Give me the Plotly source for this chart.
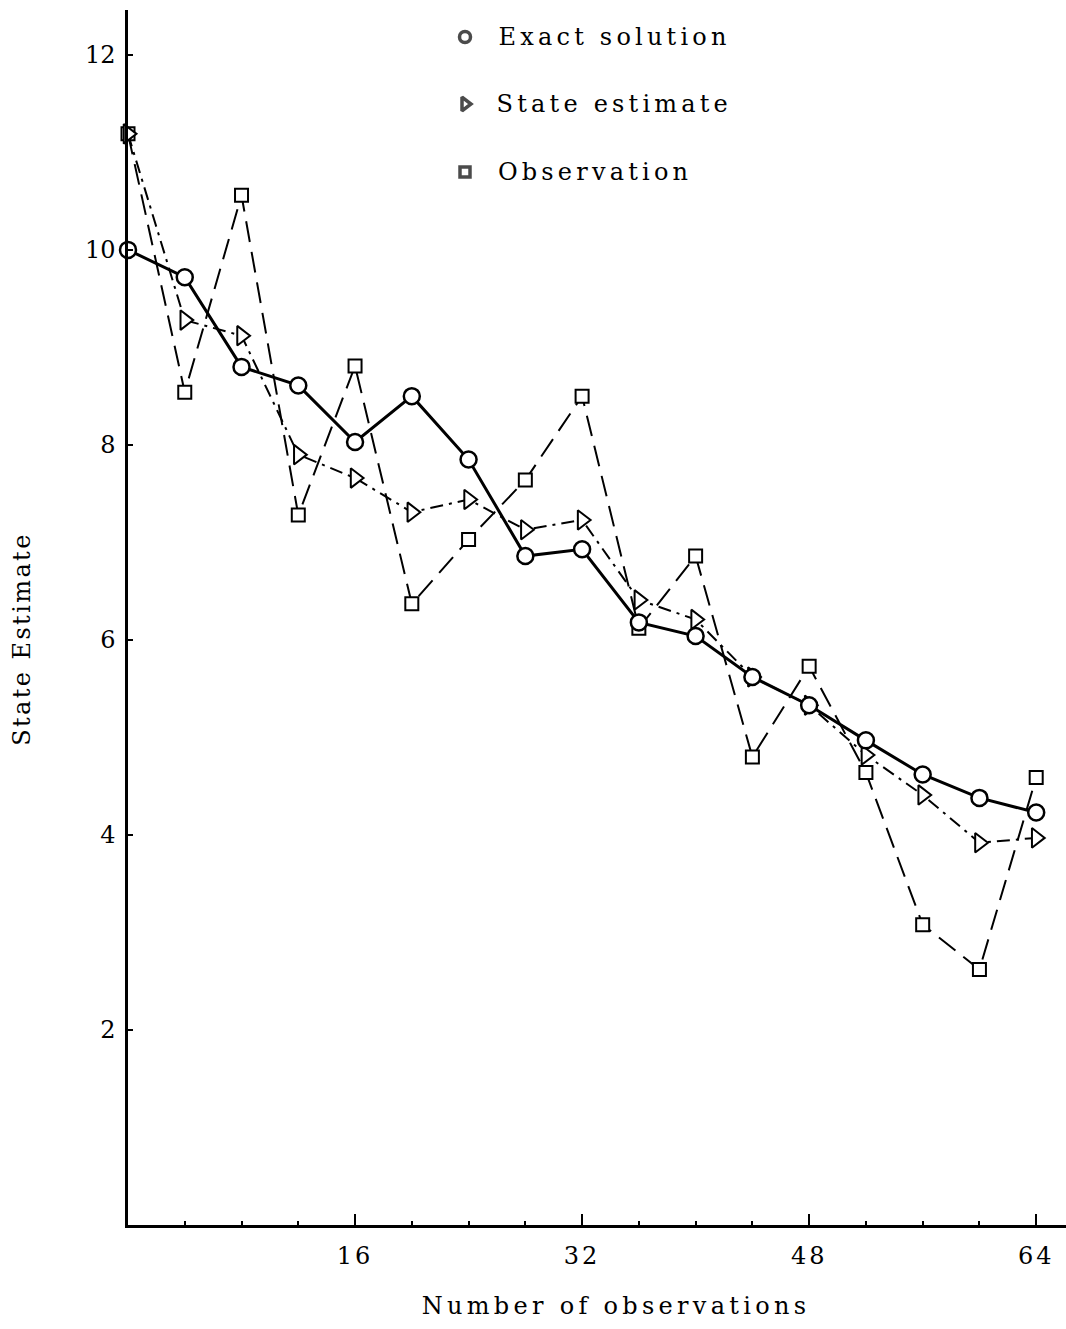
import plotly.graph_objects as go

# ---- data ----
n_obs = [0, 4, 8, 12, 16, 20, 24, 28, 32, 36, 40, 44, 48, 52, 56, 60, 64]
exact_solution = [10.0, 9.72, 8.80, 8.61, 8.03, 8.50, 7.85, 6.86, 6.93, 6.18,
                  6.04, 5.62, 5.33, 4.97, 4.62, 4.38, 4.23]
state_estimate = [11.19, 9.28, 9.12, 7.90, 7.66, 7.31, 7.44, 7.13, 7.23, 6.41,
                  6.21, 5.62, 5.33, 4.82, 4.41, 3.92, 3.97]
observation = [11.19, 8.54, 10.56, 7.28, 8.81, 6.37, 7.03, 7.64, 8.50, 6.12,
               6.86, 4.80, 5.73, 4.64, 3.08, 2.62, 4.59]

x_ticks = [16, 32, 48, 64]
x_minor = [4, 8, 12, 20, 24, 28, 36, 40, 44, 52, 56, 60]
y_ticks = [2, 4, 6, 8, 10, 12]
legend_labels = ["Exact solution", "State estimate", "Observation"]
x_title = "Number of observations"
y_title = "State Estimate"

FONT = "DejaVu Serif"
W, H = 1066, 1329
L, R, T, B = 128, 0, 10, 104


def px_x(px):
    return (px - L) / (W - L - R)


def px_y(py):
    return (H - B - py) / (H - B - T)


fig = go.Figure()

fig.add_trace(go.Scatter(
    x=n_obs, y=observation, mode="lines+markers", cliponaxis=False,
    line=dict(color="black", width=2, dash="21px,10px"),
    marker=dict(symbol="square", size=13, color="white", line=dict(width=2, color="black")),
    showlegend=False))
fig.add_trace(go.Scatter(
    x=n_obs, y=state_estimate, mode="lines+markers", cliponaxis=False,
    line=dict(color="black", width=2, dash="13px,6px,3px,6px"),
    marker=dict(symbol="triangle-right", size=17, color="white", line=dict(width=2, color="black")),
    showlegend=False))
fig.add_trace(go.Scatter(
    x=n_obs, y=exact_solution, mode="lines+markers", cliponaxis=False,
    line=dict(color="black", width=3),
    marker=dict(symbol="circle", size=16, color="white", line=dict(width=2.5, color="black")),
    showlegend=False))

# legend drawn by hand (markers on an overlay axis with pixel-like coordinates)
leg_y_px = [37, 104, 172]
leg_sym_x = 465
leg_txt_cx = [614, 614, 595]
fig.add_trace(go.Scatter(
    x=[leg_sym_x] * 3, y=leg_y_px, mode="markers",
    marker=dict(symbol=["circle", "triangle-right", "square"],
                size=[11, 12, 10], color="white", line=dict(width=3.5, color="black")),
    xaxis="x2", yaxis="y2", showlegend=False, hoverinfo="skip"))
for lab, cx, yp in zip(legend_labels, leg_txt_cx, leg_y_px):
    fig.add_annotation(x=px_x(cx), y=px_y(yp), xref="paper", yref="paper", text=lab,
                       showarrow=False, xanchor="center", yanchor="middle",
                       font=dict(family=FONT, size=24, color="black"))

# axis titles
fig.add_annotation(x=px_x(616), y=px_y(1306), xref="paper", yref="paper", text=x_title,
                   showarrow=False, xanchor="center", yanchor="middle",
                   font=dict(family=FONT, size=24, color="black"))
fig.add_annotation(x=px_x(22), y=px_y(639), xref="paper", yref="paper", text=y_title,
                   showarrow=False, xanchor="center", yanchor="middle", textangle=-90,
                   font=dict(family=FONT, size=24, color="black"))

fig.update_layout(
    width=W, height=H,
    margin=dict(l=L, r=R, t=T, b=B),
    paper_bgcolor="white", plot_bgcolor="white",
    font=dict(family=FONT, size=24, color="black"),
    showlegend=False,
    xaxis=dict(range=[0, 66.1], showgrid=False, zeroline=False,
               showline=True, linecolor="black", linewidth=2.5,
               tickvals=x_ticks, ticks="inside", ticklen=11, tickwidth=2, tickcolor="black",
               ticklabelstandoff=7,
               minor=dict(tickvals=x_minor, ticks="inside", ticklen=4, tickwidth=2,
                          tickcolor="black")),
    yaxis=dict(range=[0, 12.46], showgrid=False, zeroline=False,
               showline=True, linecolor="black", linewidth=2.5,
               tickvals=y_ticks, ticks="inside", ticklen=5, tickwidth=2, tickcolor="black",
               ticklabelstandoff=5),
    xaxis2=dict(overlaying="x", range=[L, W - R], visible=False, fixedrange=True),
    yaxis2=dict(overlaying="y", range=[H - B, T], visible=False, fixedrange=True),
)

post = """
document.body.style.margin = '0';
var sp = ['4.2px', '4.2px', '4.2px', '4.3px', '2.4px'];
document.querySelectorAll('.annotation-text').forEach(function(t, i){ t.style.letterSpacing = sp[i] || '4px'; });
document.querySelectorAll('.xtick text').forEach(function(t){ t.style.letterSpacing = '3px'; });
"""
fig.write_html("out.html", post_script=post, config={"displayModeBar": False})
